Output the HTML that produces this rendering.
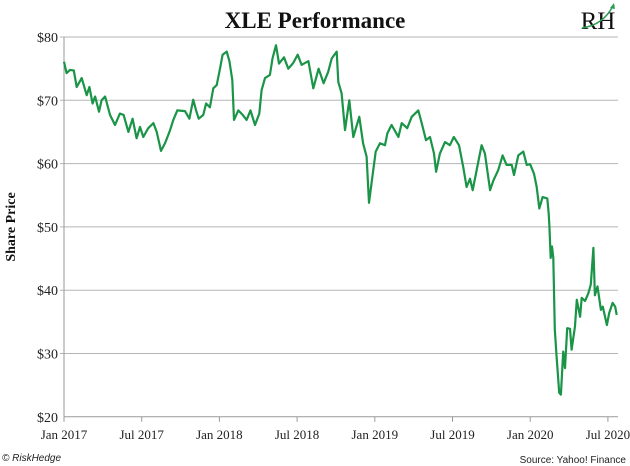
<!DOCTYPE html>
<html><head><meta charset="utf-8"><style>
body{margin:0;background:#fff;}
svg{display:block;}
</style></head><body>
<svg id="chart" width="630" height="466" viewBox="0 0 630 466" xmlns="http://www.w3.org/2000/svg">
<text x="315" y="28" text-anchor="middle" font-family="Liberation Serif, serif" font-weight="bold" font-size="23" fill="#111">XLE Performance</text>
<g>
<text x="598" y="29" text-anchor="middle" font-family="Liberation Serif, serif" font-size="25" fill="#111">RH</text>
<path d="M582 28 Q603 25 613 6" stroke="#2e9a55" stroke-width="1.5" fill="none"/>
<path d="M610 8 L614 3 L615 9 Z" fill="#2e9a55"/>
</g>
<text transform="translate(15,227) rotate(-90)" text-anchor="middle" font-family="Liberation Serif, serif" font-weight="bold" font-size="14" fill="#111">Share Price</text>
<g id="grid"></g>
<g id="xaxis"></g>
<g id="series"></g>
<text x="2" y="461" font-family="Liberation Sans, sans-serif" font-style="italic" font-size="10" fill="#222">© RiskHedge</text>
<text x="626" y="463" text-anchor="end" font-family="Liberation Sans, sans-serif" font-size="10" fill="#222">Source: Yahoo! Finance</text>
</svg>
<script>
const yTicks=[20,30,40,50,60,70,80];
const xTickLabels=["Jan 2017","Jul 2017","Jan 2018","Jul 2018","Jan 2019","Jul 2019","Jan 2020","Jul 2020"];
const xTickMonths=[0,6,12,18,24,30,36,42];
const months=[0,0.2,0.46,0.76,0.98,1.37,1.75,1.96,2.21,2.4,2.7,2.9,3.17,3.55,3.94,4.32,4.6,4.97,5.3,5.61,5.87,6.12,6.5,6.9,7.16,7.49,7.8,8.19,8.44,8.75,9.34,9.68,9.98,10.2,10.4,10.76,10.97,11.27,11.53,11.79,12.05,12.25,12.56,12.77,13,13.13,13.46,13.8,14.1,14.4,14.75,15.08,15.26,15.52,15.9,16.1,16.37,16.6,16.99,17.32,17.7,18.05,18.35,18.87,19.25,19.66,20.05,20.4,20.67,21.06,21.18,21.44,21.7,22.03,22.34,22.8,23.1,23.37,23.55,23.76,24.07,24.4,24.79,24.97,25.3,25.82,26.08,26.5,26.85,27.36,27.62,27.95,28.26,28.57,28.73,29.03,29.42,29.8,30.1,30.5,30.83,31.09,31.35,31.56,31.87,32.25,32.5,32.9,33.15,33.54,33.87,34.18,34.57,34.75,35.08,35.47,35.73,35.99,36.29,36.5,36.7,36.96,37.32,37.43,37.48,37.58,37.68,37.78,37.9,38.04,38.24,38.37,38.55,38.69,38.86,39.07,39.2,39.46,39.6,39.85,39.98,40.23,40.49,40.68,40.88,41.0,41.2,41.46,41.61,41.92,42.1,42.36,42.56,42.68];
const prices=[76.1,74.3,74.8,74.7,72.1,73.5,70.8,72.1,69.5,70.6,68.2,70.0,70.6,67.7,66.1,67.9,67.7,65.0,67.1,64.0,65.8,64.2,65.6,66.4,65.0,62.0,63.2,65.3,66.9,68.4,68.3,67.1,70.1,68.4,67.1,67.7,69.5,68.9,71.9,72.4,75.0,77.2,77.7,76.2,73.2,66.9,68.4,67.7,66.9,68.4,66.1,67.9,71.6,73.5,74.0,76.6,78.7,75.8,76.8,75.0,75.9,77.2,75.6,76.2,71.9,75.0,72.7,74.5,76.6,77.7,72.9,71.1,65.3,70.0,64.2,67.4,63.2,61.1,53.8,57.1,61.9,63.2,62.9,64.8,66.1,64.2,66.4,65.6,67.4,68.4,66.4,63.7,64.2,61.6,58.7,61.6,63.4,62.9,64.2,62.9,59.5,56.3,57.6,55.8,59.0,62.9,61.6,55.8,57.3,59.0,61.3,59.8,59.8,58.2,61.3,61.9,59.8,59.9,58.4,56.3,52.9,54.7,54.5,52.1,50.1,45.1,46.9,45.1,33.8,29.5,23.8,23.5,30.3,27.7,34.0,33.9,30.6,34.3,38.5,35.8,38.8,38.3,39.5,40.9,46.7,39.2,40.6,36.9,37.4,34.5,36.4,38.0,37.4,36.1];
const L=64,R=618;
function x(m){return L+m*12.95;}
function y(p){return 37+(80-p)*6.33;}
const NS="http://www.w3.org/2000/svg";
const grid=document.getElementById('grid');
yTicks.forEach(v=>{
 const ln=document.createElementNS(NS,'line');
 
 
 ln.setAttribute('x1',v===20?L:L-4);ln.setAttribute('x2',R);
 ln.setAttribute('y1',y(v));ln.setAttribute('y2',y(v));
 ln.setAttribute('stroke',v===20?'#999':'#b5b5b5');ln.setAttribute('stroke-width','1');
 grid.appendChild(ln);
 const t=document.createElementNS(NS,'text');
 
 
 t.setAttribute('x',L-6);t.setAttribute('y',y(v)+5);
 t.setAttribute('text-anchor','end');t.setAttribute('font-family','Liberation Serif, serif');
 t.setAttribute('font-size','14');t.setAttribute('fill','#222');
 t.textContent='$'+v;grid.appendChild(t);
});
const ya=document.createElementNS(NS,'line');


ya.setAttribute('x1',L);ya.setAttribute('x2',L);ya.setAttribute('y1',y(80));ya.setAttribute('y2',y(20));
ya.setAttribute('stroke','#999');grid.appendChild(ya);
const xa=document.getElementById('xaxis');
xTickMonths.forEach((m,i)=>{
 const tk=document.createElementNS(NS,'line');
 
 
 tk.setAttribute('x1',x(m));tk.setAttribute('x2',x(m));tk.setAttribute('y1',y(20));tk.setAttribute('y2',y(20)+5);
 tk.setAttribute('stroke','#999');xa.appendChild(tk);
 const t=document.createElementNS(NS,'text');
 
 
 t.setAttribute('x',x(m));t.setAttribute('y',y(20)+22);
 t.setAttribute('text-anchor','middle');t.setAttribute('font-family','Liberation Serif, serif');
 t.setAttribute('font-size','13');t.setAttribute('fill','#222');
 t.textContent=xTickLabels[i];xa.appendChild(t);
});
const path=document.createElementNS(NS,'path');


path.setAttribute('d',months.map((m,i)=>(i?'L':'M')+x(m).toFixed(1)+' '+y(prices[i]).toFixed(1)).join(' '));
path.setAttribute('fill','none');path.setAttribute('stroke','#1a9447');path.setAttribute('stroke-width','2.2');
path.setAttribute('stroke-linejoin','round');
document.getElementById('series').appendChild(path);
</script>
</body></html>
